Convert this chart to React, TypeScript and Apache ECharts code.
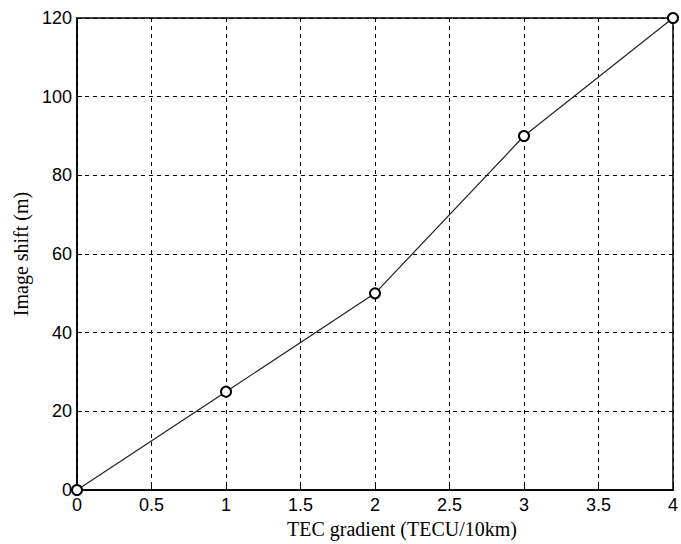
import React, { useEffect, useRef } from "react";
import * as echarts from "echarts";

const xValues = [0, 1, 2, 3, 4];
const yValues = [0, 25, 50, 90, 120];
const xAxisTitle = "TEC gradient (TECU/10km)";
const yAxisTitle = "Image shift (m)";

export default function App() {
  const ref = useRef<HTMLDivElement>(null);
  useEffect(() => {
    if (!ref.current) return;
    const chart = echarts.init(ref.current, null, { renderer: "svg" });
    const tickFont = { fontFamily: "Liberation Sans, Arial, sans-serif", fontSize: 18, color: "#000" };
    const nameFont = { fontFamily: "Liberation Serif, Times New Roman, serif", fontSize: 20, color: "#000" };
    chart.setOption({
      animation: false,
      backgroundColor: "#fff",
      grid: {
        left: 77,
        right: 5,
        top: 18,
        bottom: 54,
        show: true,
        borderColor: "#000",
        borderWidth: 1.5,
        backgroundColor: "transparent",
      },
      xAxis: {
        type: "value",
        min: 0,
        max: 4,
        interval: 0.5,
        name: xAxisTitle,
        nameLocation: "middle",
        nameGap: 28,
        nameTextStyle: { ...nameFont, padding: [0, 0, 0, 54] },
        axisLine: { show: true, lineStyle: { color: "#000", width: 1.5 } },
        axisTick: { show: true, inside: true, length: 5, lineStyle: { color: "#000" } },
        axisLabel: { ...tickFont, margin: 6 },
        splitLine: { show: true, lineStyle: { color: "#000", type: [4, 4], width: 1 } },
      },
      yAxis: {
        type: "value",
        min: 0,
        max: 120,
        interval: 20,
        name: yAxisTitle,
        nameLocation: "middle",
        nameGap: 44,
        nameTextStyle: nameFont,
        axisLine: { show: true, lineStyle: { color: "#000", width: 1.5 } },
        axisTick: { show: true, inside: true, length: 5, lineStyle: { color: "#000" } },
        axisLabel: { ...tickFont, margin: 5 },
        splitLine: { show: true, lineStyle: { color: "#000", type: [4, 4], width: 1 } },
      },
      series: [
        {
          type: "line",
          data: xValues.map((x, i) => [x, yValues[i]]),
          symbol: "emptyCircle",
          symbolSize: 10,
          showAllSymbol: true,
          clip: false,
          lineStyle: { color: "#222", width: 1.2 },
          itemStyle: { color: "#000", borderColor: "#000", borderWidth: 1.5 },
          z: 5,
        },
      ],
    });
    return () => chart.dispose();
  }, []);
  return <div ref={ref} style={{ width: 681, height: 544, position: "absolute", left: 0, top: 0 }} />;
}
